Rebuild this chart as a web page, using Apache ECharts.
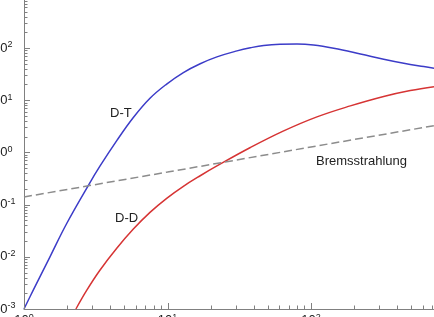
<!DOCTYPE html>
<html>
<head>
<meta charset="utf-8">
<script src="https://cdn.jsdelivr.net/npm/echarts@6/dist/echarts.min.js"></script>
<style>
  html, body { margin: 0; padding: 0; background: #fff; }
  #main { width: 434px; height: 317px; }
</style>
</head>
<body>
<div id="main"></div>
<script>
// curves (x: temperature, y: power density, both log)
const dtX = [1, 1.16, 1.52, 1.98, 2.85, 3.39, 4.43, 5.78, 7.55, 9.87, 12.9, 16.9, 22.1, 30.5, 37.8, 46.8, 60.8, 79.9, 104, 144, 221, 321, 443, 610, 720];
const dtY = [0.001, 0.0023, 0.0101, 0.043, 0.25, 0.55, 1.68, 4.66, 10.9, 20.4, 33.9, 50, 67.6, 88, 101, 112, 118, 119, 114, 99, 77, 61, 51, 44, 41];

const ddX = [2.3, 2.74, 3.39, 4.43, 5.78, 7.55, 9.87, 12.9, 16.9, 22.1, 37.8, 64.5, 110, 188, 321, 492, 720];
const ddY = [0.001, 0.0023, 0.0056, 0.0146, 0.034, 0.071, 0.132, 0.224, 0.357, 0.55, 1.24, 2.58, 4.79, 7.78, 11.8, 15.3, 18.2];

const brX = [1, 10, 100, 720];
const brY = [0.14, 0.42, 1.27, 3.25];

// ticks
const xMajor = [1, 10, 100, 1000];
const xMinor = [2, 3, 4, 5, 6, 7, 8, 9, 20, 30, 40, 50, 60, 70, 80, 90, 200, 300, 400, 500, 600, 700, 800, 900];
const yMajor = [0.001, 0.01, 0.1, 1, 10, 100, 1000];
const yMinor = [];
yMajor.slice(0, -1).forEach(d => { for (let k = 2; k <= 9; k++) yMinor.push(+(d * k).toPrecision(3)); });

const X_MIN = 1, X_MAX = 1000, Y_MIN = 0.001, Y_MAX = 1000;

const zip = (xs, ys) => xs.map((x, i) => [x, ys[i]]);

const expLabel = v => '{b|10}{s|' + Math.round(Math.log10(v)) + '}';
const richLbl = {
  b: { fontSize: 13, fontFamily: 'Liberation Sans', color: '#222', lineHeight: 15 },
  s: { fontSize: 9, fontFamily: 'Liberation Sans', color: '#222', verticalAlign: 'top', lineHeight: 12 }
};

const axisCol = '#808080';

// ticks drawn by a custom series so log minor ticks land at 2..9
const tickSeries = (vals, onX, len) => ({
  type: 'custom',
  silent: true,
  clip: false,
  z: 5,
  encode: { x: 0, y: 1 },
  data: vals.map(v => onX ? [v, Y_MIN] : [X_MIN, v]),
  renderItem: (params, api) => {
    const p = api.coord([api.value(0), api.value(1)]);
    const px = Math.round(p[0]) + 0.5, py = Math.round(p[1]) + 0.5;
    return {
      type: 'line',
      shape: onX ? { x1: px, y1: p[1], x2: px, y2: p[1] - len }
                 : { x1: p[0], y1: py, x2: p[0] + len, y2: py },
      style: { stroke: axisCol, lineWidth: 1 }
    };
  }
});

let myChart = echarts.init(document.getElementById('main'));

let option = {
  animation: false,
  backgroundColor: '#fff',
  grid: { left: 24, top: -4.2, right: -20.5, bottom: 8, containLabel: false, outerBoundsMode: 'none' },
  xAxis: {
    type: 'log', logBase: 10, min: X_MIN, max: X_MAX,
    axisLine: { lineStyle: { color: axisCol, width: 1 } },
    axisTick: { show: false },
    axisLabel: { customValues: xMajor, margin: 4, formatter: expLabel, rich: richLbl },
    splitLine: { show: false }
  },
  yAxis: {
    type: 'log', logBase: 10, min: Y_MIN, max: Y_MAX,
    axisLine: { show: true, lineStyle: { color: axisCol, width: 1 } },
    axisTick: { show: false },
    axisLabel: { customValues: yMajor, margin: 31, align: 'left', formatter: expLabel, rich: richLbl },
    splitLine: { show: false }
  },
  series: [
    tickSeries(xMajor, true, 6),
    tickSeries(xMinor, true, 3.5),
    tickSeries(yMajor, false, 6),
    tickSeries(yMinor, false, 3.5),
    {
      name: 'D-T', type: 'line', data: zip(dtX, dtY),
      smooth: 0.4, symbol: 'none',
      lineStyle: { color: '#3c3cc8', width: 1.5 }
    },
    {
      name: 'D-D', type: 'line', data: zip(ddX, ddY),
      smooth: 0.4, symbol: 'none',
      lineStyle: { color: '#d63434', width: 1.5 }
    },
    {
      name: 'Bremsstrahlung', type: 'line', data: zip(brX, brY),
      symbol: 'none',
      lineStyle: { color: '#8c8c8c', width: 1.5, type: [8, 4] }
    }
  ],
  graphic: [
    { type: 'text', x: 110, y: 113, style: { text: 'D-T', fill: '#222', font: '13px "Liberation Sans"', textVerticalAlign: 'middle' } },
    { type: 'text', x: 115, y: 218, style: { text: 'D-D', fill: '#222', font: '13px "Liberation Sans"', textVerticalAlign: 'middle' } },
    { type: 'text', x: 316, y: 161, style: { text: 'Bremsstrahlung', fill: '#222', font: '13px "Liberation Sans"', textVerticalAlign: 'middle' } }
  ]
};

myChart.setOption(option);
</script>
</body>
</html>
